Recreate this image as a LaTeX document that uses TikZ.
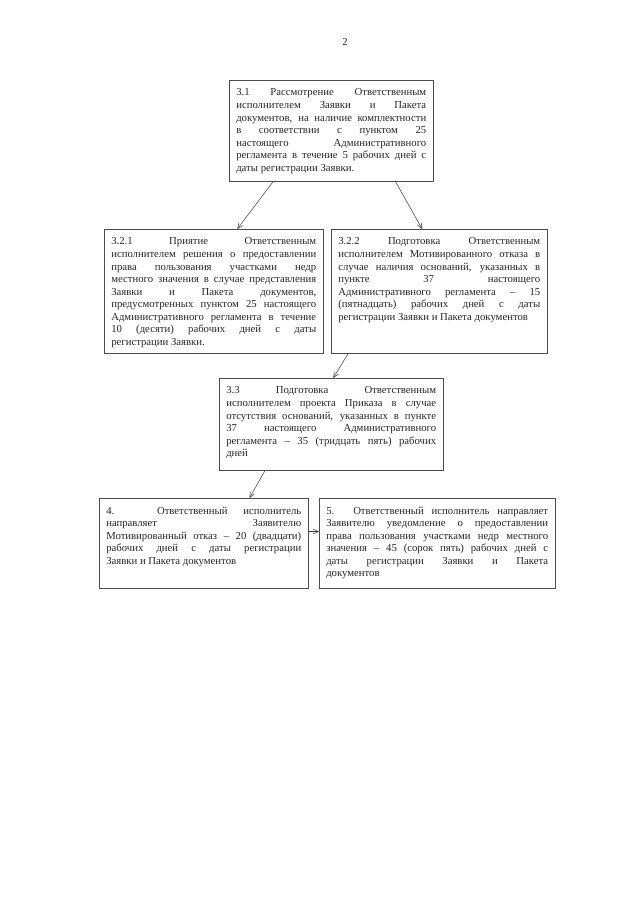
\documentclass[tikz,border=0pt]{standalone}
\usepackage{fontspec}
\setmainfont{Liberation Serif}
\usetikzlibrary{arrows.meta,calc}
\hyphenpenalty=10000
\exhyphenpenalty=10000
\vfuzz=20pt

\newcommand{\stagetext}[3]{\parbox[t][#2][t]{#1}{#3}}

\begin{document}
\begin{tikzpicture}[x=0.0328125cm, y=-0.0328125cm,
    >={Straight Barb[length=5pt,width=4.5pt]},
    every node/.style={font=\fontsize{10}{11.7}\selectfont, text=black!85},
    stage/.style={draw=black!70, line width=0.6pt, anchor=north west, inner xsep=6.5pt, inner ysep=8pt},
    flow/.style={->, draw=black!75, line width=0.5pt}]
  \useasboundingbox (0,0) rectangle (640,905);
  \node (pagenum) at (345,42) {2};
  % 3.1
  \node[stage] (s31) at (229,80) {\stagetext{177.3pt}{78.2pt}{3.1 Рассмотрение Ответственным\linebreak
    исполнителем Заявки и Пакета\linebreak
    документов, на наличие комплектности\linebreak
    в соответствии с пунктом 25\linebreak
    настоящего Административного\linebreak
    регламента в течение 5 рабочих дней с\linebreak
    даты регистрации Заявки.}};
  % 3.2.1 and 3.2.2
  \node[stage] (s321) at (104,229) {\stagetext{191.3pt}{99.7pt}{3.2.1 Приятие Ответственным\linebreak
    исполнителем решения о предоставлении\linebreak
    права пользования участками недр\linebreak
    местного значения в случае представления\linebreak
    Заявки и Пакета документов,\linebreak
    предусмотренных пунктом 25 настоящего\linebreak
    Административного регламента в течение\linebreak
    10 (десяти) рабочих дней с даты\linebreak
    регистрации Заявки.}};
  \node[stage] (s322) at (331,229) {\stagetext{188.5pt}{99.7pt}{3.2.2 Подготовка Ответственным\linebreak
    исполнителем Мотивированного отказа в\linebreak
    случае наличия оснований, указанных в\linebreak
    пункте 37 настоящего\linebreak
    Административного регламента – 15\linebreak
    (пятнадцать) рабочих дней с даты\linebreak
    регистрации Заявки и Пакета документов}};
  % 3.3
  \node[stage] (s33) at (219,378) {\stagetext{195.9pt}{69.8pt}{3.3 Подготовка Ответственным\linebreak
    исполнителем проекта Приказа в случае\linebreak
    отсутствия оснований, указанных в пункте\linebreak
    37 настоящего Административного\linebreak
    регламента – 35 (тридцать пять) рабочих\linebreak
    дней}};
  % 4 and 5
  \node[stage] (s4) at (99,498) {\stagetext{182pt}{68pt}{4. Ответственный исполнитель\linebreak
    направляет Заявителю\linebreak
    Мотивированный отказ – 20 (двадцати)\linebreak
    рабочих дней с даты регистрации\linebreak
    Заявки и Пакета документов}};
  \node[stage] (s5) at (319,498) {\stagetext{207.1pt}{68pt}{5. Ответственный исполнитель направляет\linebreak
    Заявителю уведомление о предоставлении\linebreak
    права пользования участками недр местного\linebreak
    значения – 45 (сорок пять) рабочих дней с\linebreak
    даты регистрации Заявки и Пакета\linebreak
    документов}};
  % arrows
  \draw[flow] ($(s31.south west)!0.216!(s31.south east)$) -- ($(s321.north west)!0.607!(s321.north east)$);
  \draw[flow] ($(s31.south west)!0.814!(s31.south east)$) -- ($(s322.north west)!0.421!(s322.north east)$);
  \draw[flow] ($(s322.south west)!0.079!(s322.south east)$) -- ($(s33.north west)!0.509!(s33.north east)$);
  \draw[flow] ($(s33.south west)!0.205!(s33.south east)$) -- ($(s4.north west)!0.718!(s4.north east)$);
  \coordinate (s4out) at ($(s4.north east)!0.37!(s4.south east)$);
  \draw[flow] (s4out) -- (s4out -| s5.west);
\end{tikzpicture}
\end{document}
